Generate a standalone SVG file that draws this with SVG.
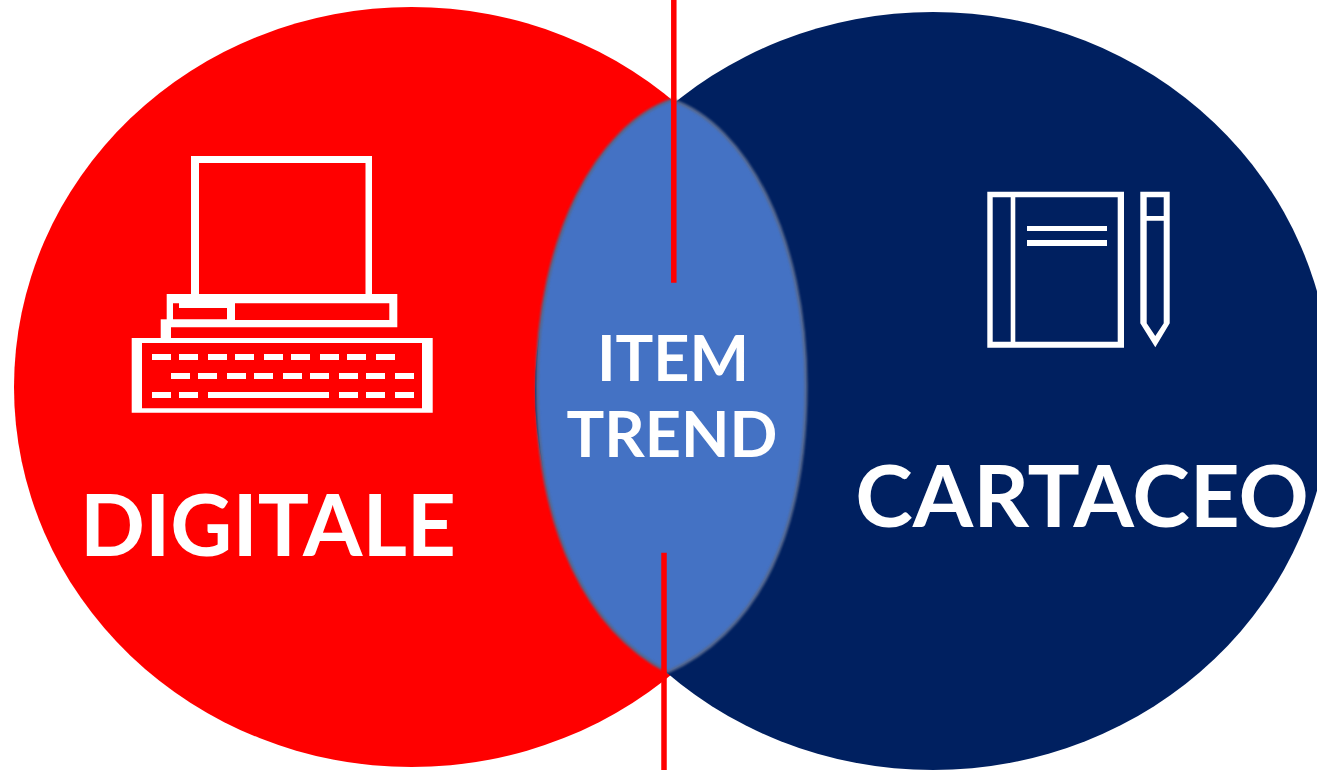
<svg xmlns="http://www.w3.org/2000/svg" width="1317" height="770" viewBox="0 0 1317 770">
<style>
.l{font-family:Lato,"Liberation Sans",sans-serif;font-weight:700;fill:#fff;text-anchor:middle}
.w{fill:#fff;fill-rule:evenodd}
.r{stroke:#f00;stroke-width:5.500;fill:none}
</style>
<defs>
<filter id="soft" x="-5%" y="-5%" width="110%" height="110%"><feGaussianBlur stdDeviation="0.9"/></filter>
<path id="lens" d="M672 100C745 125 806 235 806 386C806 530 760 630 668 672C588 630 537 530 537 386C537 235 599 125 672 100Z"/>
</defs>
<rect width="1317" height="770" fill="#fff"/>
<g id="digitale">
<ellipse cx="411.600" cy="387" rx="397.600" ry="380" fill="#f00"/>
<g id="computer">
<path class="w" d="M191 156H372V294H365.500V163H199V294H191Z"/>
<path class="w" d="M166.700 294H397.300V327.300H166.700ZM173 303.300V319.300H227V308H179V303.300ZM235 303.300V320H389.300V303.300Z"/>
<path class="w" d="M160.700 319.300H171V340H160.700Z"/>
<path class="w" d="M131.700 338H432.700V412.700H131.700ZM142 343V408.300H422V343Z"/>
<g class="w">
<rect x="152" y="354" width="19" height="6"/><rect x="179" y="354" width="19" height="6"/><rect x="208" y="354" width="19" height="6"/><rect x="235" y="354" width="19" height="6"/><rect x="264" y="354" width="19" height="6"/><rect x="291" y="354" width="19" height="6"/><rect x="320" y="354" width="19" height="6"/><rect x="347" y="354" width="19" height="6"/><rect x="376" y="354" width="19" height="6"/>
<rect x="171" y="373" width="19" height="6"/><rect x="198" y="373" width="19" height="6"/><rect x="227" y="373" width="19" height="6"/><rect x="254" y="373" width="19" height="6"/><rect x="283" y="373" width="19" height="6"/><rect x="310" y="373" width="19" height="6"/><rect x="339" y="373" width="19" height="6"/><rect x="366" y="373" width="19" height="6"/><rect x="395" y="373" width="19" height="6"/>
<rect x="152" y="392" width="19" height="6"/><rect x="179" y="392" width="19" height="6"/><rect x="208" y="392" width="121" height="6"/><rect x="339" y="392" width="19" height="6"/><rect x="366" y="392" width="19" height="6"/><rect x="395" y="392" width="19" height="6"/>
</g>
</g>
<text class="l" x="268" y="556" font-size="85.500">DIGITALE</text>
</g>
<g id="cartaceo">
<ellipse cx="933" cy="391" rx="398" ry="379" fill="#002060"/>
<g id="notebook">
<path class="w" d="M987.300 191.700H1124V347.700H987.300ZM992.700 197.300V341.700H1010.700V197.300ZM1015.300 197.300V341.700H1117.700V197.300Z"/>
<rect class="w" x="1027" y="226" width="80" height="5"/>
<rect class="w" x="1027" y="240" width="80" height="6"/>
<path class="w" d="M1140.300 191.700H1169.700V323.300L1155.300 347.300L1140.300 323.300ZM1146.700 197.300V216H1163.700V197.300ZM1146.700 220.700V323.300L1155.300 336L1163.700 323.300V220.700Z"/>
</g>
<text class="l" x="1082" y="527" font-size="87">CARTACEO</text>
</g>
<g id="item-trend">
<use href="#lens" fill="#4472c4"/>
<use href="#lens" fill="none" stroke="#55688f" stroke-width="3" filter="url(#soft)"/>
<text class="l" x="673" y="381" font-size="63">ITEM</text>
<text class="l" x="672" y="457" font-size="63">TREND</text>
</g>
<g id="connectors">
<path class="r" d="M673.800 0V282.700"/>
<path class="r" d="M664 552.700V770"/>
</g>
</svg>
